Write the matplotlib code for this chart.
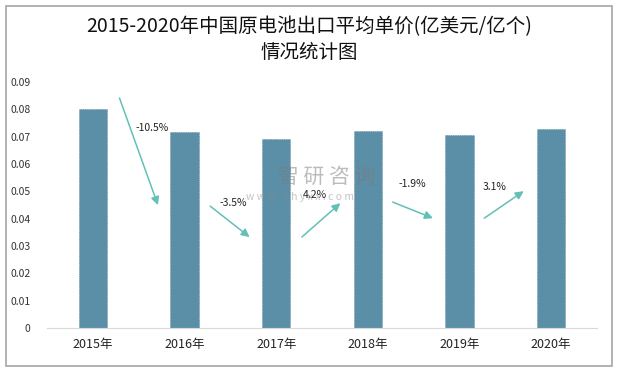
import matplotlib.pyplot as plt
from matplotlib.patches import Rectangle

plt.rcParams['font.family'] = ['Noto Sans CJK SC', 'DejaVu Sans']

years = ['2015年', '2016年', '2017年', '2018年', '2019年', '2020年']
prices = [0.0801, 0.0717, 0.0692, 0.0721, 0.0707, 0.0729]
growth = ['-10.5%', '-3.5%', '4.2%', '-1.9%', '3.1%']
# arrow start / end and label positions in data coords (x index, y value)
arrow_from = [(0.29, 0.0842), (1.28, 0.0446), (2.28, 0.0333), (3.27, 0.0461), (4.27, 0.0402)]
arrow_to = [(0.71, 0.0450), (1.71, 0.0333), (2.70, 0.0457), (3.71, 0.0402), (4.70, 0.0501)]
label_at = [(0.65, 0.0732), (1.53, 0.0457), (2.42, 0.0487), (3.48, 0.0527), (4.38, 0.0516)]

fig = plt.figure(figsize=(6.19, 3.70), dpi=100)
fig.patches.append(Rectangle((0.01, 0.012), 0.978, 0.972, transform=fig.transFigure,
                             fill=False, edgecolor='#a6a6a6', linewidth=1.2))

ax = fig.add_axes([0.076, 0.1135, 0.8885, 0.6645])
x = range(len(years))
ax.bar(x, prices, width=0.31, color='#5b8fa7', edgecolor='#4d7f96', linewidth=0.5,
       linestyle=':', zorder=2)

for (x0, y0), (x1, y1), (lx, ly), g in zip(arrow_from, arrow_to, label_at, growth):
    ax.annotate('', xy=(x1, y1), xytext=(x0, y0),
                arrowprops=dict(arrowstyle='-|>', color='#62c0b7', lw=1.1,
                                mutation_scale=12, shrinkA=0, shrinkB=0), zorder=3)
    ax.text(lx, ly, g, ha='center', va='center', fontsize=7.5, color='#222222', zorder=5)

# watermark
fig.text(0.527, 0.522, '智 研 咨 询', fontsize=15, color='#7a7a7a', alpha=0.5,
         ha='center', va='center', zorder=4)
fig.text(0.485, 0.468, 'w w w . c h y x x . c o m', fontsize=7.5, color='#8a8a8a', alpha=0.5,
         ha='center', va='center', zorder=4)

ax.set_xlim(-0.5, 5.5)
ax.set_ylim(0, 0.09)
ax.set_yticks([i / 100 for i in range(10)])
ax.set_yticklabels(['0'] + ['%.2f' % (i / 100) for i in range(1, 10)])
ax.set_xticks(list(x))
ax.set_xticklabels(years)
ax.tick_params(axis='y', length=0, labelsize=7.5, pad=12, labelcolor='#333333')
ax.tick_params(axis='x', length=0, labelsize=9, pad=7, labelcolor='#222222')
for s in ['top', 'right', 'left']:
    ax.spines[s].set_visible(False)
ax.spines['bottom'].set_color('#d9d9d9')

fig.text(0.5, 0.927, '2015-2020年中国原电池出口平均单价(亿美元/亿个)', ha='center', va='center',
         fontsize=14, color='#111111')
fig.text(0.5, 0.859, '情况统计图', ha='center', va='center', fontsize=14, color='#111111')

fig.savefig('out.png', dpi=100)
